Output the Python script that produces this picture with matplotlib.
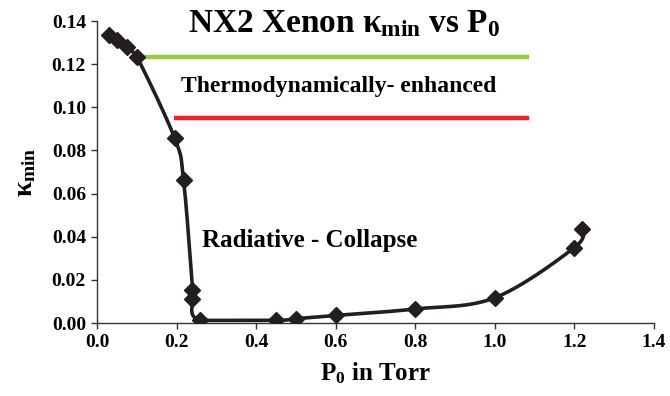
import numpy as np
import matplotlib
matplotlib.use("Agg")
import matplotlib.pyplot as plt

# ---- data ----
p0 = [0.03, 0.05, 0.075, 0.10, 0.195, 0.2175, 0.24, 0.24, 0.26, 0.45, 0.50, 0.60, 0.80, 1.00, 1.20, 1.22]
kmin = [0.1335, 0.131, 0.128, 0.1235, 0.0858, 0.0665, 0.0155, 0.011, 0.0012, 0.0012, 0.002, 0.0035, 0.0065, 0.0117, 0.035, 0.0435]
green_level = 0.1232
red_level = 0.0950
green_x = [0.11, 1.085]
red_x = [0.1925, 1.085]
xticks = [0.0, 0.2, 0.4, 0.6, 0.8, 1.0, 1.2, 1.4]
yticks = [0.00, 0.02, 0.04, 0.06, 0.08, 0.10, 0.12, 0.14]


def smooth(x, y, n=30):
    # Excel-like smoothed line (cubic Bezier, Catmull-Rom tangents) through the points
    x = np.asarray(x, float)
    y = np.asarray(y, float)
    P = np.column_stack([x, y])
    out = [P[0]]
    for i in range(len(P) - 1):
        pa = P[i - 1] if i > 0 else P[i]
        p1 = P[i]
        p2 = P[i + 1]
        pb = P[i + 2] if i + 2 < len(P) else P[i + 1]
        c1 = p1 + (p2 - pa) / 6.0
        c2 = p2 - (pb - p1) / 6.0
        lo, hi = min(p1[1], p2[1]), max(p1[1], p2[1])
        c1[1] = np.clip(c1[1], lo, hi)
        c2[1] = np.clip(c2[1], lo, hi)
        t = np.linspace(0, 1, n)[1:, None]
        seg = ((1 - t) ** 3) * p1 + 3 * ((1 - t) ** 2) * t * c1 + 3 * (1 - t) * t ** 2 * c2 + t ** 3 * p2
        out.extend(seg)
    out = np.array(out)
    return out[:, 0], out[:, 1]


plt.rcParams['font.family'] = ['Liberation Serif', 'DejaVu Serif']
plt.rcParams['font.weight'] = 'bold'
plt.rcParams['mathtext.fontset'] = 'custom'
plt.rcParams['mathtext.rm'] = 'Liberation Serif:bold'
plt.rcParams['mathtext.it'] = 'Liberation Serif:bold'
plt.rcParams['mathtext.bf'] = 'Liberation Serif:bold'

fig = plt.figure(figsize=(6.7, 3.96), dpi=100)
ax = fig.add_axes([97 / 670, 1 - 323 / 396, (654 - 97) / 670, (323 - 21) / 396])

ax.plot(green_x, [green_level, green_level], color='#96CC3C', lw=3.2, solid_capstyle='butt', zorder=2)
ax.plot(red_x, [red_level, red_level], color='#EE2228', lw=3.2, solid_capstyle='butt', zorder=2)

sx, sy = smooth(p0, kmin)
ax.plot(sx, sy, color='#231F20', lw=2.6, zorder=3, solid_joinstyle='round')
ax.plot(p0, kmin, linestyle='none', marker='D', markersize=8, color='#231F20', zorder=4)

ax.set_xlim(0, 1.4)
ax.set_ylim(0, 0.14)
ax.set_xticks(xticks)
ax.set_yticks(yticks)
ax.set_xticklabels([f"{v:.1f}" for v in xticks], fontsize=14, fontweight='bold')
ax.set_yticklabels([f"{v:.2f}" for v in yticks], fontsize=14, fontweight='bold')
ax.tick_params(direction='out', length=4, width=1, color='#333333', pad=4)
for s in ['top', 'right']:
    ax.spines[s].set_visible(False)
for s in ['left', 'bottom']:
    ax.spines[s].set_color('#333333')
    ax.spines[s].set_linewidth(1)

ax.set_xlabel(r"P$_0$ in Torr", fontsize=18, fontweight='bold', labelpad=7)
ax.set_ylabel(r"$\kappa_{\rm min}$", fontsize=20, fontweight='bold', labelpad=10)

fig.text(188 / 670, 1 - 32 / 396, r"NX2 Xenon $\kappa_{\rm min}$ vs P$_0$", fontsize=24,
         fontweight='bold', ha='left', va='baseline')
fig.text(181 / 670, 1 - 92 / 396, "Thermodynamically- enhanced", fontsize=17,
         fontweight='bold', ha='left', va='baseline')
fig.text(202 / 670, 1 - 247 / 396, "Radiative - Collapse", fontsize=18,
         fontweight='bold', ha='left', va='baseline')

fig.savefig("out.png", dpi=100)
